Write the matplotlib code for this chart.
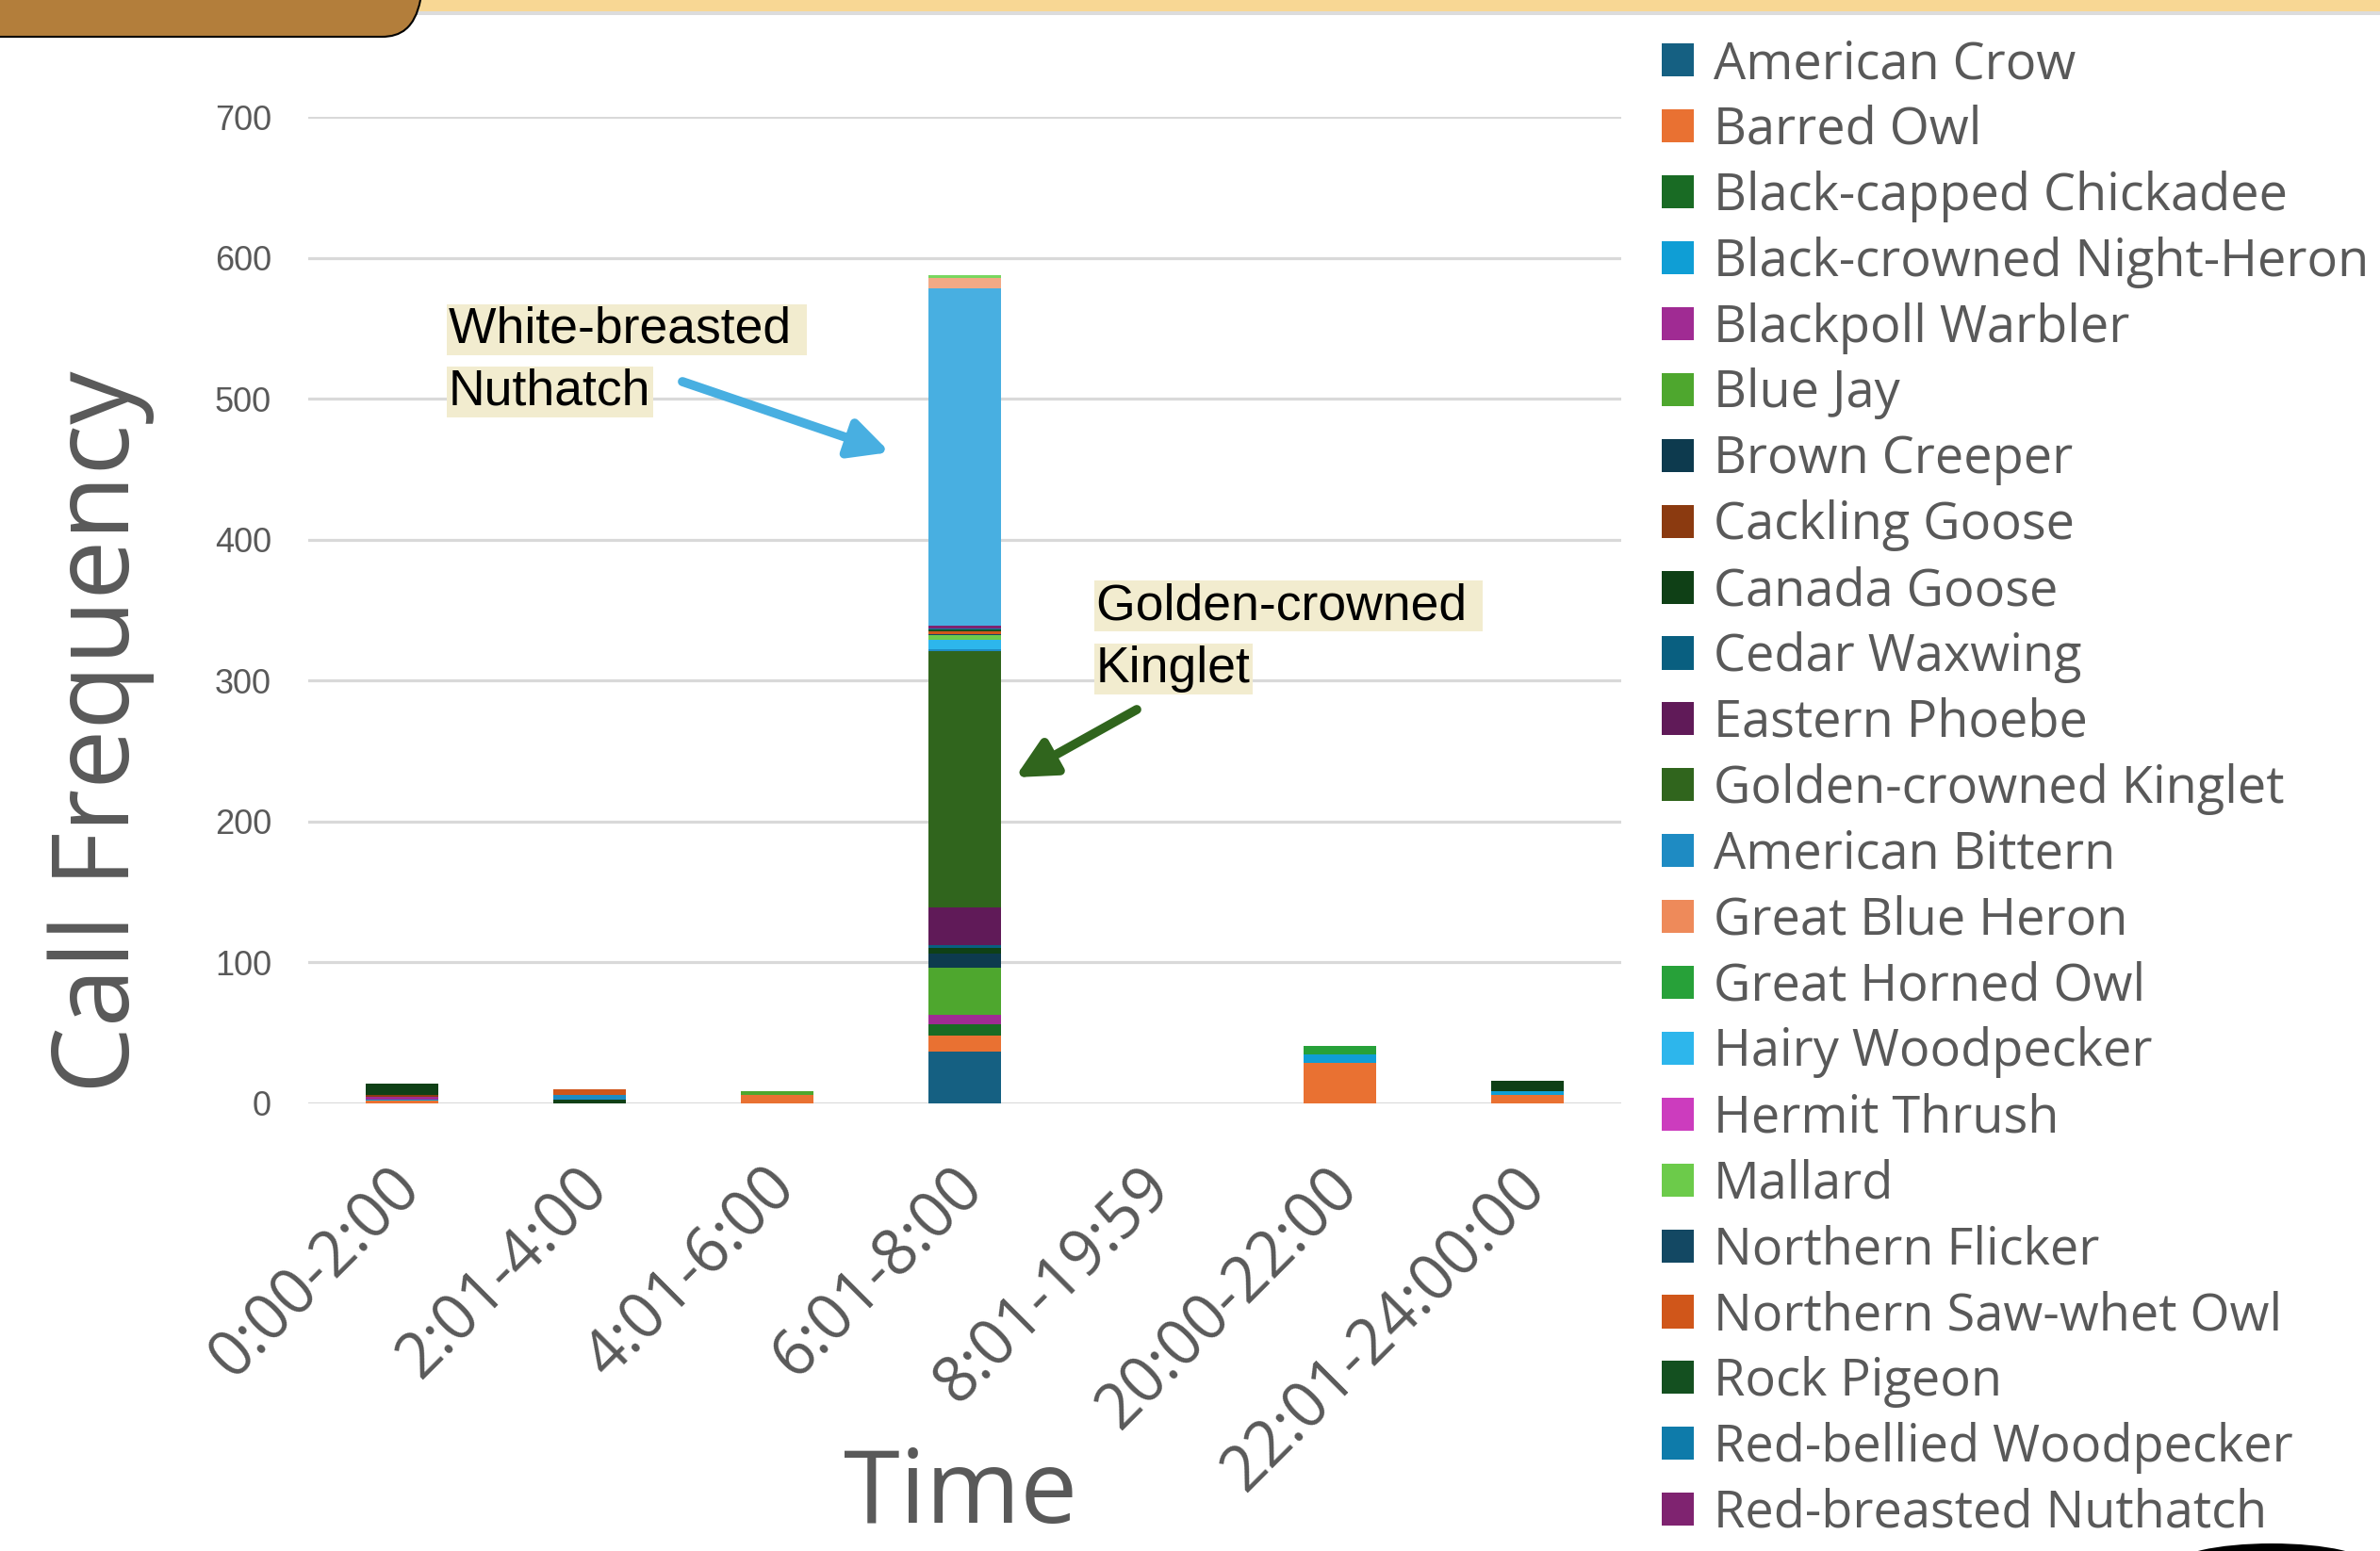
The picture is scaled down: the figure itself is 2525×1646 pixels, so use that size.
import numpy as np
import matplotlib
matplotlib.use("Agg")
import matplotlib.pyplot as plt
from matplotlib.patches import Rectangle, PathPatch, Ellipse
from matplotlib.path import Path
from matplotlib.transforms import ScaledTranslation

# ---------------- data ----------------
time_bins = ["0:00-2:00", "2:01-4:00", "4:01-6:00", "6:01-8:00",
             "8:01-19:59", "20:00-22:00", "22:01-24:00:00"]

species = ["American Crow", "Barred Owl", "Black-capped Chickadee",
           "Black-crowned Night-Heron", "Blackpoll Warbler", "Blue Jay",
           "Brown Creeper", "Cackling Goose", "Canada Goose", "Cedar Waxwing",
           "Eastern Phoebe", "Golden-crowned Kinglet", "American Bittern",
           "Great Blue Heron", "Great Horned Owl", "Hairy Woodpecker",
           "Hermit Thrush", "Mallard", "Northern Flicker",
           "Northern Saw-whet Owl", "Rock Pigeon", "Red-bellied Woodpecker",
           "Red-breasted Nuthatch", "White-breasted Nuthatch",
           "Unlisted species 1", "Unlisted species 2"]
n_legend = 23  # entries visible in the legend

counts = {
    "American Crow":            [0, 0, 0, 37, 0, 0, 0],
    "Barred Owl":               [2, 0, 6, 11, 0, 29, 6],
    "Black-capped Chickadee":   [0, 0, 0, 8, 0, 0, 0],
    "Black-crowned Night-Heron":[1, 0, 0, 0, 0, 6, 3],
    "Blackpoll Warbler":        [2, 0, 0, 7, 0, 0, 0],
    "Blue Jay":                 [0, 0, 3, 33, 0, 0, 0],
    "Brown Creeper":            [0, 0, 0, 10, 0, 0, 0],
    "Cackling Goose":           [1, 0, 0, 0, 0, 0, 0],
    "Canada Goose":             [8, 3, 0, 4, 0, 0, 7],
    "Cedar Waxwing":            [0, 0, 0, 2, 0, 0, 0],
    "Eastern Phoebe":           [0, 0, 0, 27, 0, 0, 0],
    "Golden-crowned Kinglet":   [0, 0, 0, 182, 0, 0, 0],
    "American Bittern":         [0, 3, 0, 1, 0, 0, 0],
    "Great Blue Heron":         [0, 0, 0, 0, 0, 0, 0],
    "Great Horned Owl":         [0, 0, 0, 0, 0, 6, 0],
    "Hairy Woodpecker":         [0, 0, 0, 7, 0, 0, 0],
    "Hermit Thrush":            [0, 0, 0, 0, 0, 0, 0],
    "Mallard":                  [0, 0, 0, 3, 0, 0, 0],
    "Northern Flicker":         [0, 0, 0, 1, 0, 0, 0],
    "Northern Saw-whet Owl":    [0, 4, 0, 2, 0, 0, 0],
    "Rock Pigeon":              [0, 0, 0, 1, 0, 0, 0],
    "Red-bellied Woodpecker":   [0, 0, 0, 1, 0, 0, 0],
    "Red-breasted Nuthatch":    [0, 0, 0, 2, 0, 0, 0],
    "White-breasted Nuthatch":  [0, 0, 0, 239, 0, 0, 0],
    "Unlisted species 1":       [0, 0, 0, 8, 0, 0, 0],
    "Unlisted species 2":       [0, 0, 0, 2, 0, 0, 0],
}

colors = ["#156082", "#E97132", "#196B24", "#0F9ED5", "#A02B93", "#4EA72E",
          "#0D3A4E", "#8B3A10", "#0F4016", "#095F80", "#601A58", "#30651D",
          "#1E8BC3", "#EE8A5A", "#27A139", "#2DB6EC", "#CC3CBE", "#6CCB4A",
          "#134863", "#D0561A", "#145020", "#0E7BAA", "#7F2370", "#48AFE1",
          "#F2A985", "#78D660"]

y_ticks = [0, 100, 200, 300, 400, 500, 600, 700]

# ---------------- figure ----------------
W, H = 2525, 1646
fig = plt.figure(figsize=(W / 100, H / 100), dpi=100)
fig.patch.set_facecolor("white")

def fx(px):
    return px / W

def fy(py):
    return 1 - py / H

ax_l, ax_r, ax_t, ax_b = 327, 1720, 124, 1171
ax = fig.add_axes([fx(ax_l), fy(ax_b), fx(ax_r) - fx(ax_l), fy(ax_t) - fy(ax_b)])

x = np.arange(len(time_bins))
bottom = np.zeros(len(time_bins))
handles = []
for name, col in zip(species, colors):
    vals = np.array(counts[name], dtype=float)
    bc = ax.bar(x, vals, width=0.39, bottom=bottom, color=col,
                edgecolor="none", label=name, zorder=3)
    handles.append(bc)
    bottom += vals

ax.set_xlim(-0.5, len(time_bins) - 0.5)
ax.set_ylim(0, 700)
ax.set_yticks(y_ticks)
ax.yaxis.grid(True, color="#D9D9D9", linewidth=2.3, zorder=0)
ax.set_axisbelow(True)
for s in ax.spines.values():
    s.set_visible(False)

grey = "#595959"
ax.tick_params(axis="y", length=0, pad=28, labelsize=26, labelcolor=grey)
for lab in ax.get_yticklabels():
    lab.set_family("Liberation Sans")

ax.set_xticks(x)
ax.set_xticklabels(time_bins, rotation=45, ha="right", va="top",
                   rotation_mode="anchor", fontsize=48, color=grey,
                   family="Open Sans")
ax.tick_params(axis="x", length=0, pad=40)
off = ScaledTranslation(-14 / 100, 0, fig.dpi_scale_trans)
for lab in ax.get_xticklabels():
    lab.set_transform(lab.get_transform() + off)

ax.set_ylabel("Call Frequency", fontsize=81, color=grey, family="Open Sans")
ax.yaxis.set_label_coords((107 - ax_l) / (ax_r - ax_l), (ax_b - 777) / (ax_b - ax_t))
ax.yaxis.label.set_va("center")
ax.set_xlabel("Time", fontsize=78, color=grey, family="Open Sans")
ax.xaxis.set_label_coords((1019 - ax_l) / (ax_r - ax_l), (ax_b - 1588) / (ax_b - ax_t))
ax.xaxis.label.set_va("center")

# ---------------- legend ----------------
leg = fig.legend(handles[:n_legend], species[:n_legend], loc="upper left",
                 bbox_to_anchor=(fx(1763), fy(41)), frameon=False,
                 prop={"family": "Open Sans", "size": 39},
                 handlelength=0.62, handleheight=0.62, handletextpad=0.4,
                 labelspacing=0.275, borderpad=0, borderaxespad=0)
for t in leg.get_texts():
    t.set_color(grey)

# ---------------- annotations ----------------
hl = "#F2ECCF"
def px2data(px, py):
    return ((px - ax_l) / (ax_r - ax_l) * len(time_bins) - 0.5,
            (ax_b - py) / (ax_b - ax_t) * 700)

def label_line(txt, left_px, center_py):
    xd, yd = px2data(left_px, center_py)
    ax.text(xd, yd, txt, ha="left", va="center", fontsize=38.5,
            family="Liberation Sans", color="black", zorder=5,
            bbox=dict(boxstyle="square,pad=0.04", fc=hl, ec="none"))

label_line("White-breasted ", 476, 350)
label_line("Nuthatch", 476, 416)
label_line("Golden-crowned ", 1163, 643)
label_line("Kinglet", 1163, 710)

def arrow(p0, p1, col):
    ax.annotate("", xy=px2data(*p1), xytext=px2data(*p0),
                arrowprops=dict(arrowstyle="-|>", lw=7, color=col,
                                mutation_scale=62, shrinkA=0, shrinkB=0),
                zorder=6)

arrow((724, 405), (944, 480), "#48AFE1")
arrow((1206, 753), (1077, 825), "#30651D")

# ---------------- slide decorations ----------------
fig.patches.append(Rectangle((fx(440), fy(12)), 1 - fx(440), fy(0) - fy(12),
                             transform=fig.transFigure, fc="#F8D794", ec="none"))
fig.patches.append(Rectangle((fx(440), fy(16)), 1 - fx(440), fy(12) - fy(16),
                             transform=fig.transFigure, fc="#DCDCDC", ec="none"))
verts = [(fx(0), fy(-5)), (fx(447), fy(-5)), (fx(446), fy(0)),
         (fx(440), fy(30)), (fx(425), fy(39)), (fx(405), fy(39)),
         (fx(0), fy(39))]
codes = [Path.MOVETO, Path.LINETO, Path.LINETO, Path.CURVE4, Path.CURVE4,
         Path.CURVE4, Path.LINETO]
fig.patches.append(PathPatch(Path(verts, codes), transform=fig.transFigure,
                             fc="#B37E3B", ec="black", lw=1.5))
fig.patches.append(Ellipse((fx(2410), fy(1662)), fx(210), fy(0) - fy(48),
                           transform=fig.transFigure, fc="black", ec="none"))

fig.savefig("out.png", dpi=100, facecolor="white")
